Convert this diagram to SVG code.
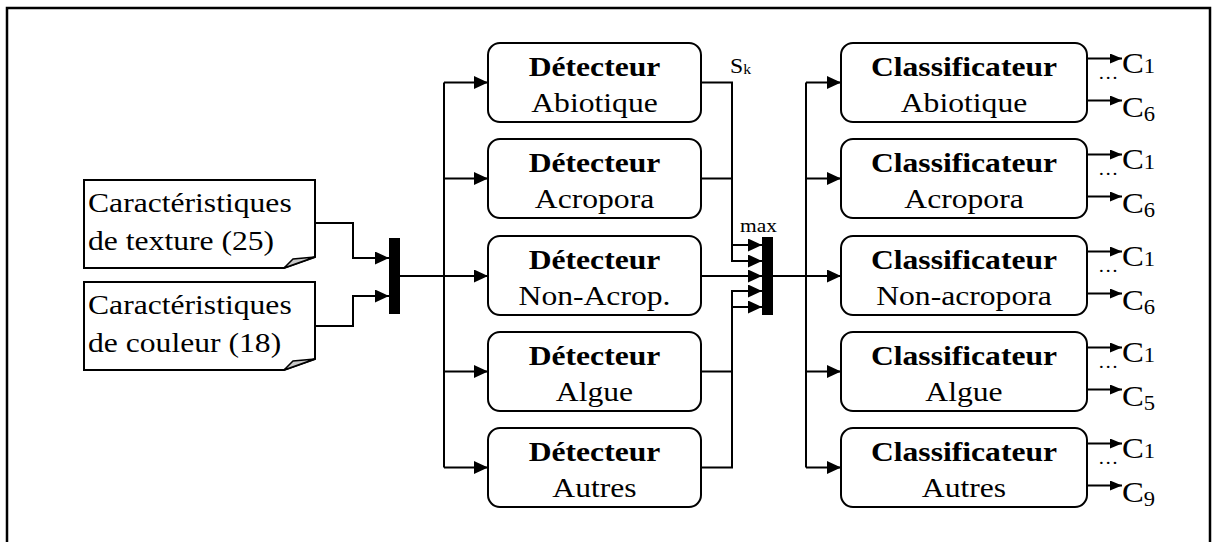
<svg xmlns="http://www.w3.org/2000/svg" width="1212" height="542" viewBox="0 0 1212 542">
<style>
text{font-family:"Liberation Serif","Times New Roman",serif;fill:#000}
.t{font-size:28px;text-anchor:middle}
.b{font-weight:bold}
.l{font-size:28px}
.box{fill:#fff;stroke:#000;stroke-width:2}
.ln{fill:none;stroke:#000;stroke-width:2}
.bar{fill:#000}
.c{font-size:29px}
.s{font-size:20px}
</style>
<defs>
<marker id="ah" markerUnits="userSpaceOnUse" markerWidth="15" markerHeight="14" refX="14" refY="6.5" orient="auto">
<path d="M0,0 L14,6.5 L0,13 z" fill="#000"/>
</marker>
<marker id="as" markerUnits="userSpaceOnUse" markerWidth="13" markerHeight="11" refX="12" refY="5" orient="auto">
<path d="M0,0 L12,5 L0,10 z" fill="#000"/>
</marker>
</defs>
<rect width="1212" height="542" fill="#fff"/>
<path d="M7,560 V8 H1210 V560" fill="none" stroke="#000" stroke-width="2.5"/>

<g id="connectors">
<path class="ln" d="M315,223 H353 V258 H389" marker-end="url(#ah)"/>
<path class="ln" d="M315,326 H353 V296 H389" marker-end="url(#ah)"/>
<path class="ln" d="M400,276 H488" marker-end="url(#ah)"/>
<path class="ln" d="M444,82.5 V467.5"/>
<path class="ln" d="M444,82.5 H488" marker-end="url(#ah)"/>
<path class="ln" d="M444,178.5 H488" marker-end="url(#ah)"/>
<path class="ln" d="M444,371.5 H488" marker-end="url(#ah)"/>
<path class="ln" d="M444,467.5 H488" marker-end="url(#ah)"/>
<path class="ln" d="M701,82.5 H732 V245 H762" marker-end="url(#ah)"/>
<path class="ln" d="M701,178.5 H732 V261 H762" marker-end="url(#ah)"/>
<path class="ln" d="M701,276 H762" marker-end="url(#ah)"/>
<path class="ln" d="M701,371.5 H732 V291 H762" marker-end="url(#ah)"/>
<path class="ln" d="M701,467.5 H732 V307 H762" marker-end="url(#ah)"/>
<path class="ln" d="M773,276 H841" marker-end="url(#ah)"/>
<path class="ln" d="M806,82.5 V467.5"/>
<path class="ln" d="M806,82.5 H841" marker-end="url(#ah)"/>
<path class="ln" d="M806,178.5 H841" marker-end="url(#ah)"/>
<path class="ln" d="M806,371.5 H841" marker-end="url(#ah)"/>
<path class="ln" d="M806,467.5 H841" marker-end="url(#ah)"/>
<path class="ln" d="M1087,58.5 H1122" marker-end="url(#as)"/>
<path class="ln" d="M1087,100.5 H1122" marker-end="url(#as)"/>
<path class="ln" d="M1087,154.5 H1122" marker-end="url(#as)"/>
<path class="ln" d="M1087,196.5 H1122" marker-end="url(#as)"/>
<path class="ln" d="M1087,251.5 H1122" marker-end="url(#as)"/>
<path class="ln" d="M1087,293.5 H1122" marker-end="url(#as)"/>
<path class="ln" d="M1087,347.5 H1122" marker-end="url(#as)"/>
<path class="ln" d="M1087,389.5 H1122" marker-end="url(#as)"/>
<path class="ln" d="M1087,443.5 H1122" marker-end="url(#as)"/>
<path class="ln" d="M1087,485.5 H1122" marker-end="url(#as)"/>
</g>

<g id="input-texture">
<path class="box" d="M84,180 H315 V257 L284,268 H84 Z"/>
<path d="M284,268 L293,259 L315,257 Z" fill="#c8c8c8" stroke="#000" stroke-width="1.5"/>
<text class="l" transform="matrix(1.13 0 0 1 88 212)">Caractéristiques</text>
<text class="l" transform="matrix(1.13 0 0 1 88 250)">de texture (25)</text>
</g>
<g id="input-couleur">
<path class="box" d="M84,282 H315 V359 L284,370 H84 Z"/>
<path d="M284,370 L293,361 L315,359 Z" fill="#c8c8c8" stroke="#000" stroke-width="1.5"/>
<text class="l" transform="matrix(1.13 0 0 1 88 314)">Caractéristiques</text>
<text class="l" transform="matrix(1.13 0 0 1 88 352)">de couleur (18)</text>
</g>

<g id="merge-bar"><rect class="bar" x="389" y="238" width="11" height="76"/></g>
<g id="max-bar">
<rect class="bar" x="762" y="237" width="11" height="78"/>
<text transform="matrix(1.13 0 0 1 740 232)" style="font-size:19px">max</text>
</g>
<g id="sk-label">
<text transform="matrix(1.13 0 0 1 730 73)" style="font-size:21px">S<tspan style="font-size:14px" dy="1">k</tspan></text>
</g>

<g id="det-abiotique">
<rect class="box" x="488" y="43" width="213" height="79" rx="12"/>
<text class="t b" transform="matrix(1.13 0 0 1 594.5 76)">Détecteur</text>
<text class="t" transform="matrix(1.13 0 0 1 594.5 112)">Abiotique</text>
</g>
<g id="det-acropora">
<rect class="box" x="488" y="139" width="213" height="79" rx="12"/>
<text class="t b" transform="matrix(1.13 0 0 1 594.5 172)">Détecteur</text>
<text class="t" transform="matrix(1.13 0 0 1 594.5 208)">Acropora</text>
</g>
<g id="det-nonacrop">
<rect class="box" x="488" y="236" width="213" height="79" rx="12"/>
<text class="t b" transform="matrix(1.13 0 0 1 594.5 269)">Détecteur</text>
<text class="t" transform="matrix(1.13 0 0 1 594.5 305)">Non-Acrop.</text>
</g>
<g id="det-algue">
<rect class="box" x="488" y="332" width="213" height="79" rx="12"/>
<text class="t b" transform="matrix(1.13 0 0 1 594.5 365)">Détecteur</text>
<text class="t" transform="matrix(1.13 0 0 1 594.5 401)">Algue</text>
</g>
<g id="det-autres">
<rect class="box" x="488" y="428" width="213" height="79" rx="12"/>
<text class="t b" transform="matrix(1.13 0 0 1 594.5 461)">Détecteur</text>
<text class="t" transform="matrix(1.13 0 0 1 594.5 497)">Autres</text>
</g>

<g id="cls-abiotique">
<rect class="box" x="841" y="43" width="246" height="79" rx="12"/>
<text class="t b" transform="matrix(1.13 0 0 1 964 76)">Classificateur</text>
<text class="t" transform="matrix(1.13 0 0 1 964 112)">Abiotique</text>
<text class="c" transform="matrix(1.13 0 0 1 1122 73)">C<tspan class="s">1</tspan></text>
<text transform="matrix(1.13 0 0 1 1098 79)" style="font-size:18px">…</text>
<text class="c" transform="matrix(1.13 0 0 1 1122 117)">C<tspan class="s" dy="4">6</tspan></text>
</g>
<g id="cls-acropora">
<rect class="box" x="841" y="139" width="246" height="79" rx="12"/>
<text class="t b" transform="matrix(1.13 0 0 1 964 172)">Classificateur</text>
<text class="t" transform="matrix(1.13 0 0 1 964 208)">Acropora</text>
<text class="c" transform="matrix(1.13 0 0 1 1122 169)">C<tspan class="s">1</tspan></text>
<text transform="matrix(1.13 0 0 1 1098 175)" style="font-size:18px">…</text>
<text class="c" transform="matrix(1.13 0 0 1 1122 213)">C<tspan class="s" dy="4">6</tspan></text>
</g>
<g id="cls-nonacropora">
<rect class="box" x="841" y="236" width="246" height="79" rx="12"/>
<text class="t b" transform="matrix(1.13 0 0 1 964 269)">Classificateur</text>
<text class="t" transform="matrix(1.13 0 0 1 964 305)">Non-acropora</text>
<text class="c" transform="matrix(1.13 0 0 1 1122 266)">C<tspan class="s">1</tspan></text>
<text transform="matrix(1.13 0 0 1 1098 272)" style="font-size:18px">…</text>
<text class="c" transform="matrix(1.13 0 0 1 1122 310)">C<tspan class="s" dy="4">6</tspan></text>
</g>
<g id="cls-algue">
<rect class="box" x="841" y="332" width="246" height="79" rx="12"/>
<text class="t b" transform="matrix(1.13 0 0 1 964 365)">Classificateur</text>
<text class="t" transform="matrix(1.13 0 0 1 964 401)">Algue</text>
<text class="c" transform="matrix(1.13 0 0 1 1122 362)">C<tspan class="s">1</tspan></text>
<text transform="matrix(1.13 0 0 1 1098 368)" style="font-size:18px">…</text>
<text class="c" transform="matrix(1.13 0 0 1 1122 406)">C<tspan class="s" dy="4">5</tspan></text>
</g>
<g id="cls-autres">
<rect class="box" x="841" y="428" width="246" height="79" rx="12"/>
<text class="t b" transform="matrix(1.13 0 0 1 964 461)">Classificateur</text>
<text class="t" transform="matrix(1.13 0 0 1 964 497)">Autres</text>
<text class="c" transform="matrix(1.13 0 0 1 1122 458)">C<tspan class="s">1</tspan></text>
<text transform="matrix(1.13 0 0 1 1098 464)" style="font-size:18px">…</text>
<text class="c" transform="matrix(1.13 0 0 1 1122 502)">C<tspan class="s" dy="4">9</tspan></text>
</g>
</svg>
